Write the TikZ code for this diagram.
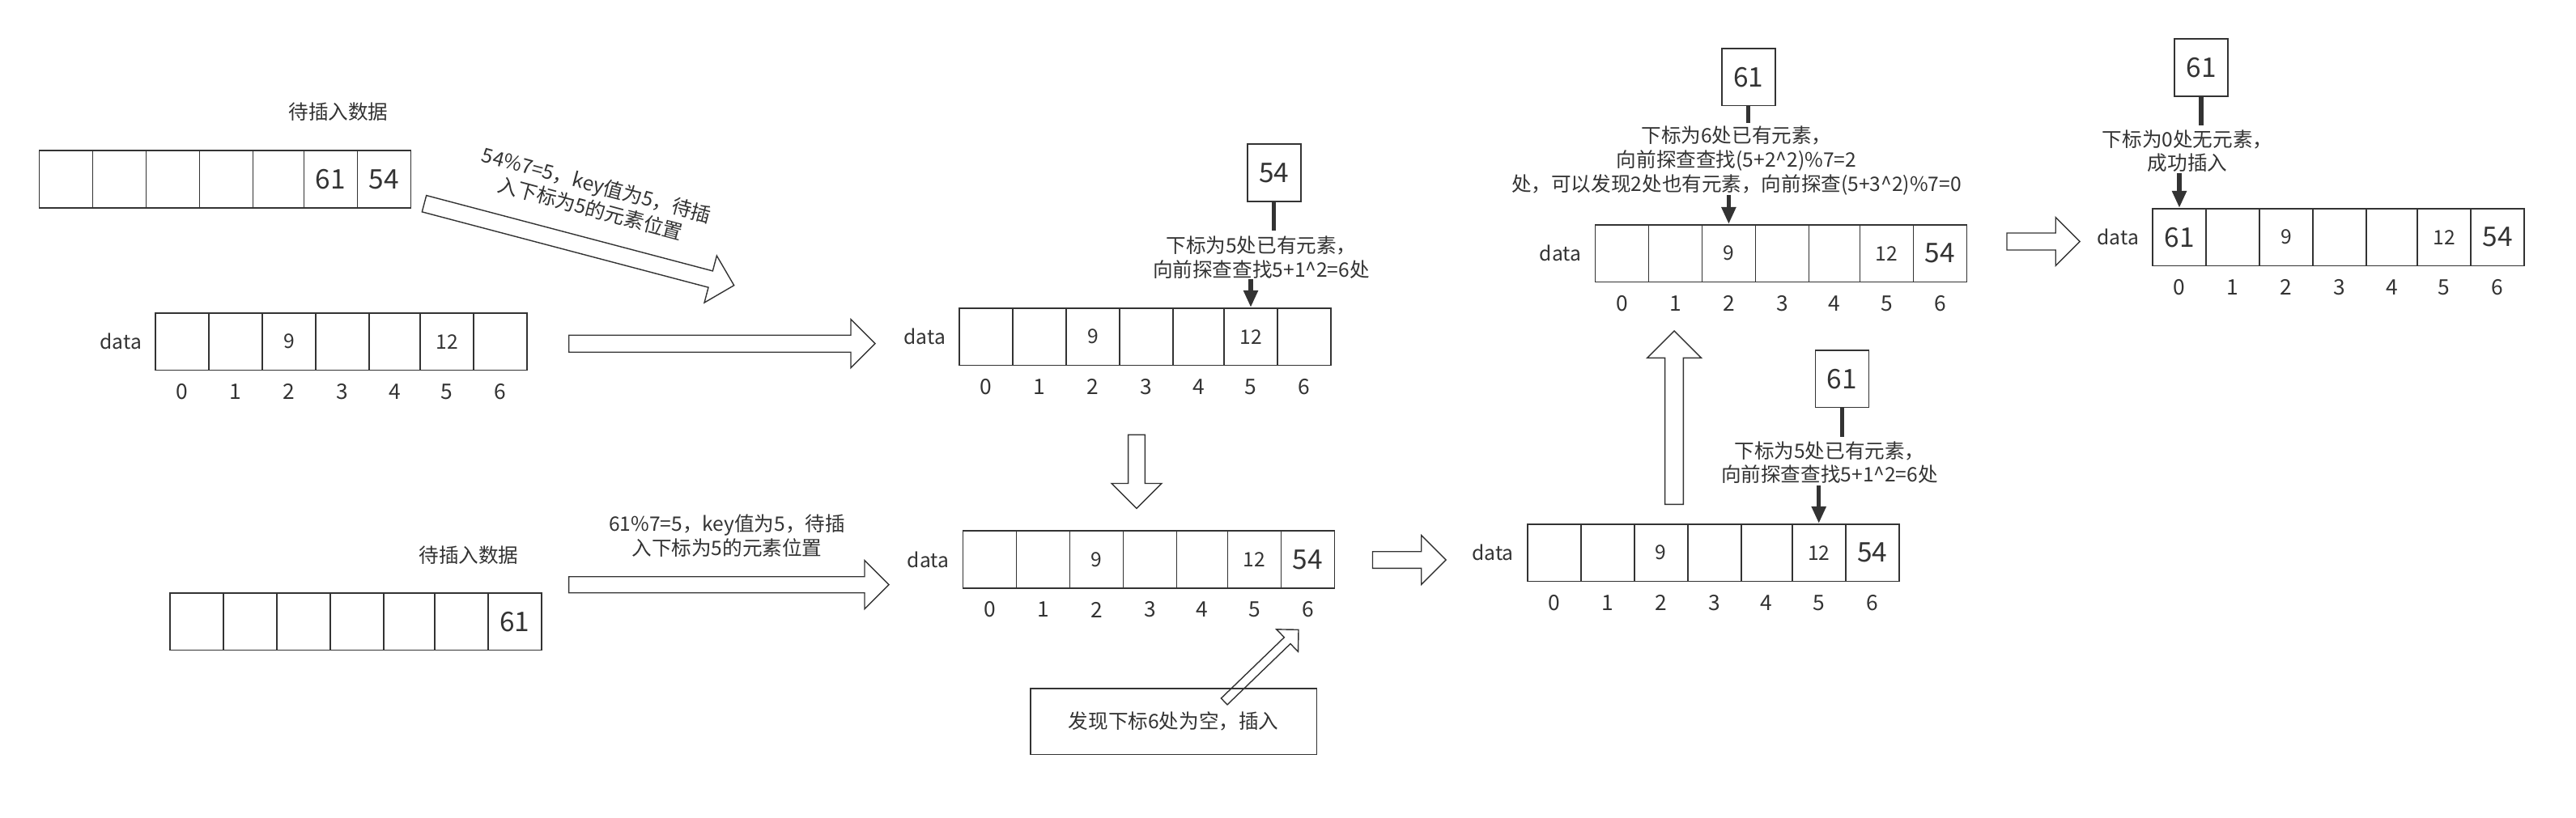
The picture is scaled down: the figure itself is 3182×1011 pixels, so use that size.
\documentclass[tikz,border=0pt]{standalone}
\usepackage{fontspec}
\setmainfont{Noto Sans CJK SC}
\usetikzlibrary{calc,arrows.meta}
\definecolor{ink}{RGB}{51,51,51}
\tikzset{
  cell/.style={draw=ink, line width=0.9pt, inner sep=0pt, minimum height=1.42cm},
  txt/.style={text=ink, font=\fontsize{14}{17}\selectfont, align=center, inner sep=0pt},
  bignum/.style={text=ink, font=\fontsize{19}{22}\selectfont, inner sep=0pt},
  num/.style={text=ink, font=\fontsize{14}{17}\selectfont, inner sep=0pt},
  idx/.style={text=ink, font=\fontsize{15}{18}\selectfont, inner sep=0pt},
  barrow/.style={draw=ink, line width=0.8pt, line join=miter},
  stem/.style={draw=ink, line width=3pt},
  pointer/.style={draw=ink, line width=3pt, -{Triangle[length=0.42cm,width=0.34cm]}},
}
\newcommand\hasharray[3]{%
  \foreach \i/\o/\w in {0/0/66,1/66/66,2/132/66,3/198/66,4/264/63,5/327/66,6/393/66}{%
    \pgfmathsetmacro\cw{\w*0.02}%
    \node[cell, minimum width=\cw cm] (#1-\i) at ({#2+\o+\w/2},{#3+35.5}) {};
  }%
}
\newcommand\hashindices[1]{%
  \foreach \i in {0,...,6}{\node[idx] (#1-n\i) at ($(#1-\i)+(0,62)$) {\i};}%
  \node[txt] (#1-lab) at ($(#1-0.west)+(-42,0)$) {data};
}
\newcommand\blockarrow[4]{%
  \coordinate (hb) at ($(#2)!#4!(#1)$);
  \draw[barrow] ($(#1)!#3!90:(#2)$) -- ($(hb)!#3!-90:(#1)$) -- ($(hb)!#4!-90:(#1)$) -- (#2)
    -- ($(hb)!#4!90:(#1)$) -- ($(hb)!#3!90:(#1)$) -- ($(#1)!#3!-90:(#2)$) -- cycle;
}
\begin{document}
\begin{tikzpicture}[x=0.02cm, y=-0.02cm]
\fill[white] (0,0) rectangle (3182,1011);
\useasboundingbox (0,0) rectangle (3182,1011);

% ---------- input arrays ----------
\node[txt] (labA) at (418,138) {待插入数据};
\hasharray{inA}{48.5}{186}
\node[bignum] (inA-v5) at (inA-5) {61};
\node[bignum] (inA-v6) at (inA-6) {54};

\node[txt] (labB) at (579,686) {待插入数据};
\hasharray{inB}{209.8}{732.7}
\node[bignum] (inB-v6) at (inB-6) {61};

% ---------- data arrays ----------
\hasharray{d1}{192}{386.7}
\hashindices{d1}
\node[num] (d1-v2) at (d1-2) {9};
\node[num] (d1-v5) at (d1-5) {12};

\hasharray{d2}{1185}{380.7}
\hashindices{d2}
\node[num] (d2-v2) at (d2-2) {9};
\node[num] (d2-v5) at (d2-5) {12};

\hasharray{d3}{1189.4}{656}
\hashindices{d3}
\node[num] (d3-v2) at (d3-2) {9};
\node[num] (d3-v5) at (d3-5) {12};
\node[bignum] (d3-v6) at (d3-6) {54};

\hasharray{d4}{1970.4}{277.7}
\hashindices{d4}
\node[num] (d4-v2) at (d4-2) {9};
\node[num] (d4-v5) at (d4-5) {12};
\node[bignum] (d4-v6) at (d4-6) {54};

\hasharray{d5}{1886.7}{647.7}
\hashindices{d5}
\node[num] (d5-v2) at (d5-2) {9};
\node[num] (d5-v5) at (d5-5) {12};
\node[bignum] (d5-v6) at (d5-6) {54};

\hasharray{d6}{2659}{257.7}
\hashindices{d6}
\node[bignum] (d6-v0) at (d6-0) {61};
\node[num] (d6-v2) at (d6-2) {9};
\node[num] (d6-v5) at (d6-5) {12};
\node[bignum] (d6-v6) at (d6-6) {54};

% ---------- value boxes, stems, notes, pointers ----------
\node[cell, minimum width=1.32cm, bignum] (b54) at (1573.7,213.5) {54};
\coordinate (s54) at ($(b54.south)+(0,35.3)$);
\draw[stem] (b54.south) -- (s54);
\node[txt] (t1) at (1558,318) {下标为5处已有元素，\\向前探查查找5+1\textasciicircum 2=6处};
\coordinate (p1) at ($(d2-5.north)+(0,-35)$);
\draw[pointer] (p1) -- (d2-5.north);

\node[cell, minimum width=1.32cm, bignum] (b61a) at (2159.7,95.2) {61};
\coordinate (s61a) at ($(b61a.south)+(0,20.7)$);
\draw[stem] (b61a.south) -- (s61a);
\node[txt] (t2) at (2145,198.3) {下标为6处已有元素，\\向前探查查找(5+2\textasciicircum 2)\%7=2\\处，可以发现2处也有元素，向前探查(5+3\textasciicircum 2)\%7=0};
\coordinate (p2) at ($(d4-2.north)+(0,-36)$);
\draw[pointer] (p2) -- (d4-2.north);

\node[cell, minimum width=1.32cm, bignum] (b61b) at (2275.5,468.2) {61};
\coordinate (s61b) at ($(b61b.south)+(0,35.3)$);
\draw[stem] (b61b.south) -- (s61b);
\node[txt] (t3) at (2260,571.7) {下标为5处已有元素，\\向前探查查找5+1\textasciicircum 2=6处};
\coordinate (p3) at ($(d5-5.north)+(0,-47)$);
\draw[pointer] (p3) -- (d5-5.north);

\node[cell, minimum width=1.32cm, bignum] (b61c) at (2719,83.4) {61};
\coordinate (s61c) at ($(b61c.south)+(0,35.3)$);
\draw[stem] (b61c.south) -- (s61c);
\node[txt] (t4) at (2702,186.7) {下标为0处无元素，\\成功插入};
\coordinate (p4) at ($(d6-0.north)+(0,-42.7)$);
\draw[pointer] (p4) -- (d6-0.north);

% ---------- explanatory texts ----------
\node[txt, rotate=-15] (t0) at (733.3,243) {54\%7=5，key值为5，待插\\入下标为5的元素位置};
\node[txt] (t5) at (898,662.5) {61\%7=5，key值为5，待插\\入下标为5的元素位置};

% ---------- block arrows ----------
\coordinate (a1t) at (524,251.7);   \coordinate (a1h) at (906.7,352.7);
\blockarrow{a1t}{a1h}{0.21cm}{0.6cm}
\coordinate (a2t) at (702.7,424.7); \coordinate (a2h) at (1081,424.7);
\blockarrow{a2t}{a2h}{0.21cm}{0.6cm}
\coordinate (a3t) at (702.6,722.7); \coordinate (a3h) at (1098,722.7);
\blockarrow{a3t}{a3h}{0.2cm}{0.6cm}
\coordinate (a4t) at (1404,537.3);  \coordinate (a4h) at (1404,628.3);
\blockarrow{a4t}{a4h}{0.207cm}{0.617cm}
\coordinate (a5t) at (1695.5,692);  \coordinate (a5h) at (1786,692);
\blockarrow{a5t}{a5h}{0.206cm}{0.606cm}
\coordinate (a6t) at (2068,623.3);  \coordinate (a6h) at (2068,409);
\blockarrow{a6t}{a6h}{0.227cm}{0.667cm}
\coordinate (a7t) at (2479,298.5);  \coordinate (a7h) at (2569.2,298.5);
\blockarrow{a7t}{a7h}{0.21cm}{0.6cm}
\coordinate (a8t) at (1512.2,867);  \coordinate (a8h) at (1604,778.3);
\blockarrow{a8t}{a8h}{0.11cm}{0.385cm}

% ---------- note box ----------
\node[cell, txt, minimum width=7.08cm, minimum height=1.632cm] (nb) at (1449.7,891.5) {发现下标6处为空，插入};
\end{tikzpicture}
\end{document}
